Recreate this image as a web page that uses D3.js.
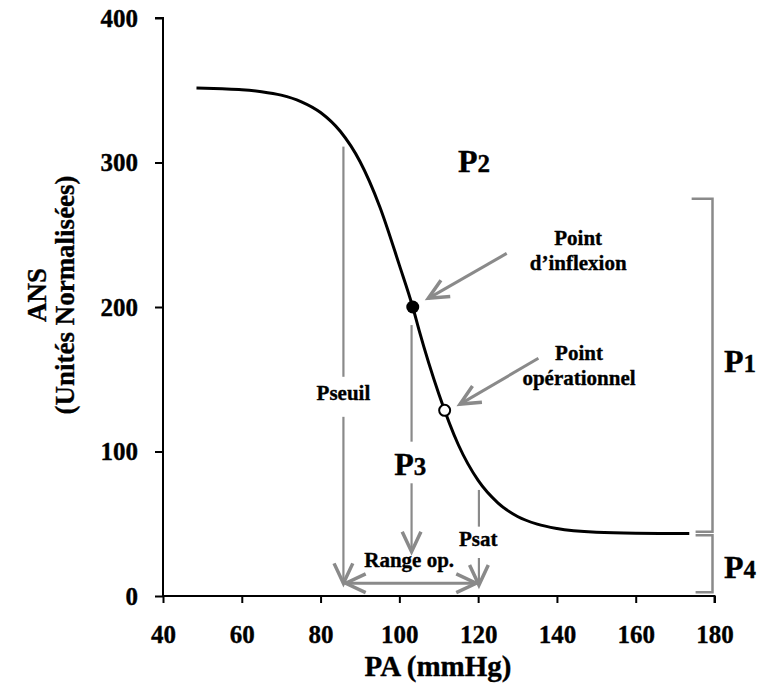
<!DOCTYPE html>
<html><head><meta charset="utf-8">
<script src="https://cdn.jsdelivr.net/npm/d3@7"></script>
<style>
html,body{margin:0;padding:0;background:#fff;}
svg text{font-family:"Liberation Serif","Times New Roman",serif;font-weight:bold;fill:#000;stroke:#000;stroke-width:0.35px;}
</style></head>
<body><svg id="c" width="758" height="685"></svg>
<script>
// Curve: PA (mmHg) vs ANS (normalised units)
const paValues  = [48.5, 55, 60, 65, 70, 75, 80, 85, 90, 95, 100, 103.4, 105, 110, 115, 120, 125, 130, 135, 140, 150, 160, 173.6];
const ansValues = [351.5, 351, 350.4, 349, 346.6, 342.2, 334.6, 321.6, 300.7, 269.6, 229, 200, 184, 140, 104.5, 80, 64.5, 55, 49.7, 46.7, 44.1, 43.4, 43.2];
const xTicks = [40, 60, 80, 100, 120, 140, 160, 180];
const yTicks = [0, 100, 200, 300, 400];
const inflexionPoint = [103.4, 200];
const operationalPoint = [111.5, 128.5];
const pSeuil = 85.8, pInflex = 103.1, pSat = 120.2;

const svg = d3.select("#c");
const x = d3.scaleLinear().domain([40, 180]).range([163, 714.5]);
const y = d3.scaleLinear().domain([0, 400]).range([596, 18]);
const gray = "#8a8a8a";

// axes
const ax = svg.append("g").attr("transform", "translate(0,596)")
  .call(d3.axisBottom(x).tickValues(xTicks).tickSize(7).tickPadding(22));
const ay = svg.append("g").attr("transform", "translate(163,0)")
  .call(d3.axisLeft(y).tickValues(yTicks).tickSize(8).tickPadding(17));
[ax, ay].forEach(g => {
  g.select(".domain").attr("stroke", "#000").attr("stroke-width", 2);
  g.selectAll(".tick line").attr("stroke", "#000").attr("stroke-width", 2);
  g.selectAll(".tick text").attr("font-size", 25).attr("font-family", "Liberation Serif, serif").attr("font-weight", "bold");
});
ay.select(".domain").attr("d", "M-8,18H0V596");
ax.select(".domain").attr("d", "M163,0H714.5V7");

// axis titles
svg.append("text").attr("x", 438).attr("y", 676).attr("text-anchor", "middle")
  .attr("font-size", 29).text("PA (mmHg)");
const yt = svg.append("g").attr("transform", "translate(0,295) rotate(-90)");
yt.append("text").attr("x", 0).attr("y", 46).attr("text-anchor", "middle").attr("font-size", 27).text("ANS");
yt.append("text").attr("x", 0).attr("y", 74).attr("text-anchor", "middle").attr("font-size", 27).text("(Unités Normalisées)");

// arrow head helper (open chevron)
function head(px, py, angle) {
  const L = 22, a = 0.44;
  const p1 = [px - L * Math.cos(angle - a), py - L * Math.sin(angle - a)];
  const p2 = [px - L * Math.cos(angle + a), py - L * Math.sin(angle + a)];
  svg.append("path").attr("d", `M${p1}L${px},${py}L${p2}`)
    .attr("fill", "none").attr("stroke", gray).attr("stroke-width", 3.5)
    .attr("stroke-linejoin", "miter").attr("stroke-linecap", "butt");
}
function seg(x1, y1, x2, y2, w) {
  svg.append("line").attr("x1", x(x1)).attr("y1", y(y1)).attr("x2", x(x2)).attr("y2", y(y2))
    .attr("stroke", gray).attr("stroke-width", w || 2.2);
}
function arrow(x1, y1, x2, y2, w) {
  seg(x1, y1, x2, y2, w);
  const ang = Math.atan2(y(y2) - y(y1), x(x2) - x(x1));
  head(x(x2), y(y2), ang);
}

// Pseuil
seg(pSeuil, 311, pSeuil, 151.7);
arrow(pSeuil, 124, pSeuil, 8.8);
// P3
seg(pInflex, 187.5, pInflex, 106.8);
arrow(pInflex, 78, pInflex, 30.7);
// Psat
seg(pSat, 73.4, pSat, 48);
arrow(pSat, 26.3, pSat, 7.6);
// Range op. double arrow
arrow(86.4, 8.8, 119.5, 8.8, 3);
head(x(86.4), y(8.8), Math.PI);
// pointer arrows
arrow(127.25, 237.1, 107.35, 206, 3);
arrow(135.3, 164.5, 115.4, 132.8, 3);

// brackets on right
function bracket(top, bot, hookTop, hookBot) {
  svg.append("path").attr("d", `M${x(hookTop)},${y(top)}H${x(180) - 2}V${y(bot)}H${x(hookBot)}`)
    .attr("fill", "none").attr("stroke", gray).attr("stroke-width", 2.5);
}
bracket(275, 44.5, 174.2, 175.2);
bracket(42, 2.6, 175.2, 175.2);

// curve
svg.append("path")
  .datum(paValues.map((v, i) => [v, ansValues[i]]))
  .attr("d", d3.line().x(d => x(d[0])).y(d => y(d[1])).curve(d3.curveMonotoneX))
  .attr("fill", "none").attr("stroke", "#000").attr("stroke-width", 3);

// points
svg.append("circle").attr("cx", x(inflexionPoint[0])).attr("cy", y(inflexionPoint[1])).attr("r", 6.5).attr("fill", "#000");
svg.append("circle").attr("cx", x(operationalPoint[0])).attr("cy", y(operationalPoint[1])).attr("r", 5.5)
  .attr("fill", "#fff").attr("stroke", "#000").attr("stroke-width", 2);

// labels
function label(t, xv, yv, size, anchor) {
  svg.append("text").attr("x", x(xv)).attr("y", y(yv)).attr("font-size", size)
    .attr("text-anchor", anchor || "middle").text(t);
}
label("Point", 145.4, 242.8, 21);
label("d’inflexion", 145.4, 225.5, 21);
label("Point", 145.6, 163.3, 21);
label("opérationnel", 145.6, 146, 21);
label("Pseuil", pSeuil, 135.6, 21);
label("Range op.", 102.5, 20, 21);
label("Psat", 120, 34.6, 21);

function pLabel(n, xv, yv) {
  const t = svg.append("text").attr("x", x(xv)).attr("y", y(yv));
  t.append("tspan").attr("font-size", 32).text("P");
  t.append("tspan").attr("font-size", 25).text(n);
}
pLabel("2", 114.9, 293.3);
pLabel("3", 98.7, 83.7);
pLabel("1", 182.4, 155);
pLabel("4", 182.4, 12.5);
</script></body></html>
